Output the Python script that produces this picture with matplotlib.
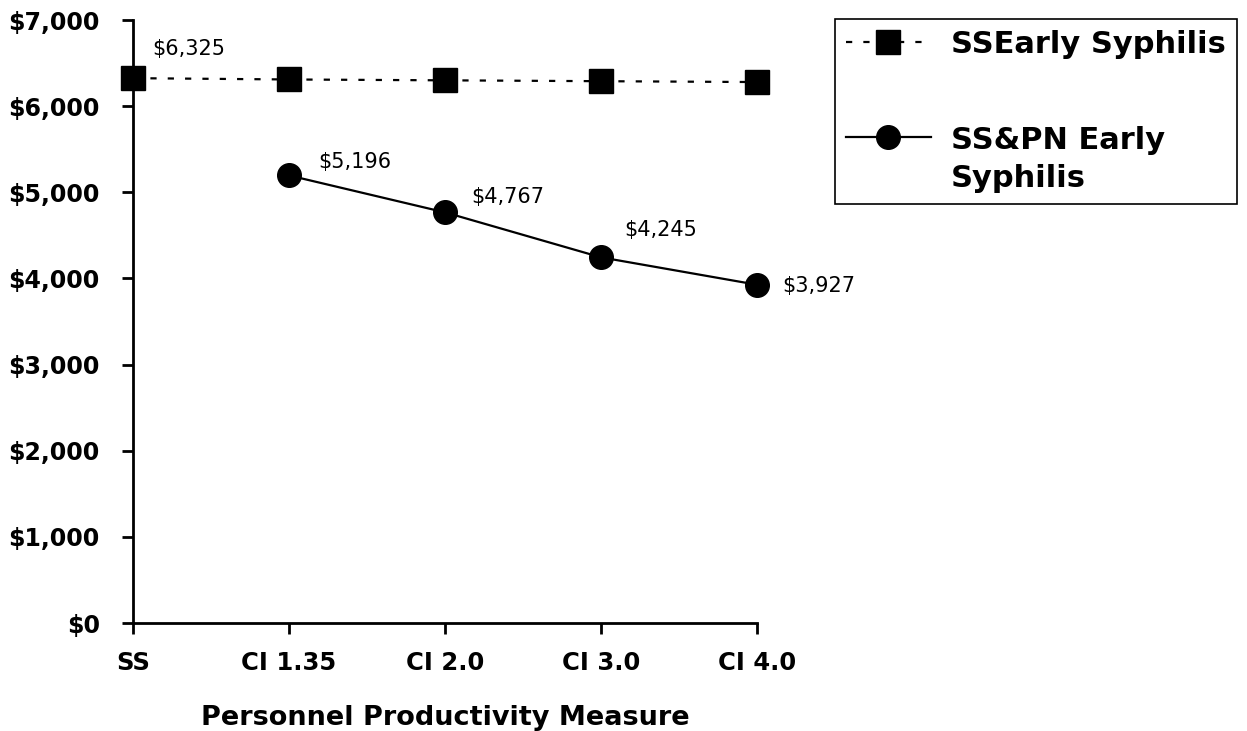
import numpy as np
import matplotlib as mpl
mpl.use('Agg')
import matplotlib.pyplot as plt
from matplotlib.ticker import FuncFormatter
from matplotlib.legend_handler import HandlerLine2D

plt.rcParams['font.family'] = ['DejaVu Sans']

# productivity measures and program cost per case
measures = ['SS', 'CI 1.35', 'CI 2.0', 'CI 3.0', 'CI 4.0']
ss_cost = [6325, 6310, 6300, 6290, 6280]
sspn_measures = ['CI 1.35', 'CI 2.0', 'CI 3.0', 'CI 4.0']
sspn_cost = [5196, 4767, 4245, 3927]

# label offsets in points (dx, dy)
ss_lab_off = [(14, 21)]
sspn_lab_off = [(21, 10), (19, 11), (17, 19.5), (18, -1)]


class RaisedLine(HandlerLine2D):
    """legend handle lined up with the first line of a two-line label"""
    def __init__(self, shift, **kw):
        super().__init__(**kw)
        self.shift = shift

    def create_artists(self, legend, orig_handle, xdescent, ydescent,
                       width, height, fontsize, trans):
        arts = super().create_artists(legend, orig_handle, xdescent, ydescent,
                                      width, height, fontsize, trans)
        for a in arts:
            a.set_ydata(np.asarray(a.get_ydata()) + self.shift)
        return arts


fig = plt.figure(figsize=(12.47, 7.31), dpi=100)
ax = fig.add_axes([0.1067, 0.1477, 0.5004, 0.8249])

xpos = np.arange(len(measures))
xs2 = [measures.index(m) for m in sspn_measures]

l1, = ax.plot(xpos, ss_cost, color='black', linestyle=(0, (2.8, 5)),
              linewidth=1.6, marker='s', markersize=17, clip_on=False,
              zorder=3, label='SSEarly Syphilis')
l2, = ax.plot(xs2, sspn_cost, color='black', linestyle='-', linewidth=1.6,
              marker='o', markersize=17, clip_on=False, zorder=3,
              label='SS&PN Early\nSyphilis')

ax.annotate('${:,}'.format(ss_cost[0]), (xpos[0], ss_cost[0]),
            xytext=ss_lab_off[0], textcoords='offset points',
            fontsize=15, ha='left', va='center')
for x, v, off in zip(xs2, sspn_cost, sspn_lab_off):
    ax.annotate('${:,}'.format(v), (x, v), xytext=off,
                textcoords='offset points', fontsize=15,
                ha='left', va='center')

ax.set_xlim(0, 4)
ax.set_ylim(0, 7000)
ax.set_xticks(xpos)
ax.set_xticklabels(measures, fontsize=17.5, fontweight='bold')
ax.set_yticks(np.arange(0, 7001, 1000))
ax.yaxis.set_major_formatter(FuncFormatter(lambda v, p: '${:,.0f}'.format(v)))
for t in ax.get_yticklabels():
    t.set_fontsize(17)
    t.set_fontweight('bold')

ax.spines['top'].set_visible(False)
ax.spines['right'].set_visible(False)
ax.spines['left'].set_linewidth(2)
ax.spines['bottom'].set_linewidth(2)
ax.tick_params(axis='both', direction='out', length=8, width=2)
ax.tick_params(axis='y', pad=16)
ax.tick_params(axis='x', pad=12)

ax.set_xlabel('Personnel Productivity Measure', fontsize=19.5,
              fontweight='bold', labelpad=22)

leg = fig.legend(handles=[l1, l2],
                 loc='upper left', bbox_to_anchor=(835 / 1247, 1 - 19 / 731),
                 prop={'size': 22, 'weight': 'bold'}, handlelength=2.8,
                 labelspacing=2.2, borderpad=0.35, handletextpad=0.65,
                 borderaxespad=0, fancybox=False, framealpha=1,
                 edgecolor='black', handler_map={l2: RaisedLine(17)})
leg.get_frame().set_linewidth(1.2)
for t in leg.get_texts():
    t.set_linespacing(1.4)

fig.savefig('out.png', dpi=100)
